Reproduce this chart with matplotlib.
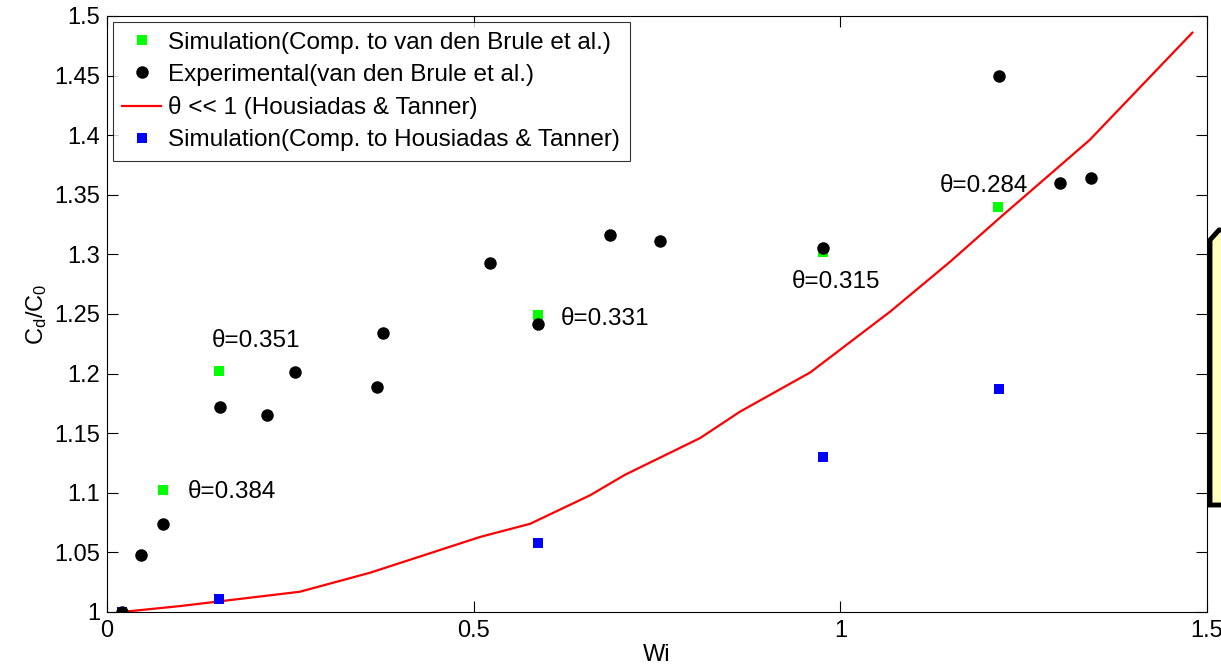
import matplotlib.pyplot as plt
from matplotlib.patches import Polygon

plt.rcParams['font.family'] = ['Liberation Sans', 'DejaVu Sans']
plt.rcParams['mathtext.default'] = 'regular'

# experimental points (van den Brule et al.)
exp_wi = [0.02, 0.046, 0.076, 0.154, 0.218, 0.256, 0.368, 0.376, 0.522,
          0.588, 0.686, 0.754, 0.976, 1.216, 1.300, 1.342]
exp_cd = [1.000, 1.048, 1.074, 1.172, 1.165, 1.201, 1.189, 1.234, 1.293,
          1.242, 1.316, 1.311, 1.305, 1.450, 1.360, 1.364]

# simulation compared to van den Brule
sim_vdb_wi = [0.076, 0.153, 0.588, 0.976, 1.215]
sim_vdb_cd = [1.102, 1.202, 1.249, 1.302, 1.340]

# simulation compared to Housiadas & Tanner
sim_ht_wi = [0.02, 0.153, 0.588, 0.976, 1.216]
sim_ht_cd = [1.000, 1.011, 1.058, 1.130, 1.187]

# theta << 1 theory
ht_wi = [0.02, 0.10, 0.263, 0.359, 0.509, 0.577, 0.659, 0.706, 0.809,
         0.863, 0.959, 1.068, 1.150, 1.218, 1.340, 1.480]
ht_cd = [1.000, 1.005, 1.017, 1.033, 1.063, 1.074, 1.098, 1.115, 1.146,
         1.168, 1.201, 1.252, 1.294, 1.331, 1.396, 1.486]

theta_labels = ['θ=0.384', 'θ=0.351', 'θ=0.331', 'θ=0.315', 'θ=0.284']
theta_x = [0.110, 0.143, 0.619, 0.934, 1.136]
theta_y = [1.101, 1.227, 1.246, 1.277, 1.357]

fig = plt.figure(figsize=(12.21, 6.72), dpi=100)
ax = fig.add_axes([107 / 1221, 60 / 672, 1100 / 1221, 596 / 672])

ax.plot(sim_vdb_wi, sim_vdb_cd, 's', color='#00ff00', ms=7, mew=0,
        label='Simulation(Comp. to van den Brule et al.)', zorder=3)
ax.plot(exp_wi, exp_cd, 'o', color='black', ms=9, mew=0,
        label='Experimental(van den Brule et al.)', zorder=4)
ax.plot(ht_wi, ht_cd, '-', color='red', lw=1.6,
        label='θ << 1 (Housiadas & Tanner)', zorder=2)
ax.plot(sim_ht_wi, sim_ht_cd, 's', color='#0000ff', ms=7, mew=0,
        label='Simulation(Comp. to Housiadas & Tanner)', zorder=3)

for t, x, y in zip(theta_labels, theta_x, theta_y):
    ax.text(x, y, t, fontsize=17.5, va='center', ha='left')

ax.set_xlim(0, 1.5)
ax.set_ylim(1, 1.5)
ax.set_xticks([0, 0.5, 1, 1.5])
ax.set_xticklabels(['0', '0.5', '1', '1.5'])
ax.set_yticks([1, 1.05, 1.1, 1.15, 1.2, 1.25, 1.3, 1.35, 1.4, 1.45, 1.5])
ax.set_yticklabels(['1', '1.05', '1.1', '1.15', '1.2', '1.25', '1.3',
                    '1.35', '1.4', '1.45', '1.5'])
ax.tick_params(direction='in', length=8, width=0.8, labelsize=17,
               top=True, right=True, pad=5)
ax.tick_params(axis='x', pad=6)
for s in ax.spines.values():
    s.set_linewidth(0.8)

ax.set_xlabel('Wi', fontsize=17, labelpad=1)
ax.set_ylabel('C$_d$/C$_0$', fontsize=17, labelpad=4)

leg = ax.legend(loc='upper left', bbox_to_anchor=(0.005, 0.99), fontsize=17.5,
                frameon=True, fancybox=False, edgecolor='black',
                handlelength=1.6, handletextpad=0.3, borderpad=0.4,
                labelspacing=0.42, borderaxespad=0)
leg.get_frame().set_linewidth(0.8)

# clipped callout box at right edge
box = Polygon([(1210 / 1221, 1 - 240 / 672), (1219 / 1221, 1 - 230 / 672),
               (1.05, 1 - 230 / 672), (1.05, 1 - 505 / 672),
               (1210 / 1221, 1 - 505 / 672)],
              closed=True, transform=fig.transFigure, facecolor='#ffffc0',
              edgecolor='black', lw=3.5)
fig.patches.append(box)

fig.savefig('out.png', dpi=100)
